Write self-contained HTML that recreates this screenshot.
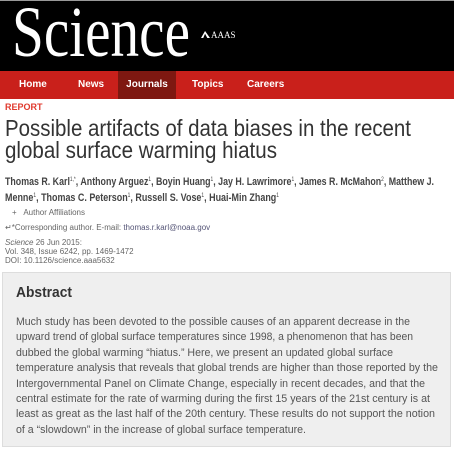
<!DOCTYPE html>
<html><head><meta charset="utf-8">
<style>
html,body{margin:0;padding:0;width:454px;height:451px;overflow:hidden;background:#fff;font-family:"Liberation Sans",sans-serif;}
.abs{position:absolute;white-space:nowrap;}
.fit{transform-origin:0 0;display:inline-block;}
#header{position:absolute;left:0;top:0;width:454px;height:71px;background:#000;border-top:1px solid #999;box-sizing:border-box;overflow:hidden;}
#nav{position:absolute;left:0;top:71px;width:454px;height:28px;background:#c9201b;}
.navi{position:absolute;top:0;height:28px;line-height:28px;color:#fff;font-weight:bold;font-size:10px;}
.sm{font-size:8px;color:#666;}
sup{font-size:6px;font-weight:normal;line-height:0;vertical-align:4px;}
</style></head>
<body>
<div id="header">
  <div class="abs" style="left:12px;top:-5px;font-family:'Liberation Serif',serif;font-size:72px;line-height:72px;color:#fff;"><span class="fit" data-w="178">Science</span></div>
  <div class="abs" style="left:201px;top:29px;font-family:'Liberation Serif',serif;font-size:9px;color:#fff;"><span style="display:inline-block;width:9px;height:7px;background:#fff;clip-path:polygon(0 100%,45% 0,100% 100%,70% 100%,45% 40%,25% 100%);margin-right:1px;"></span>AAAS</div>
</div>
<div id="nav">
  <div class="navi" style="left:19px;">Home</div>
  <div class="navi" style="left:78px;">News</div>
  <div class="navi" style="left:118px;width:58px;background:#7e1811;text-align:center;">Journals</div>
  <div class="navi" style="left:192px;">Topics</div>
  <div class="navi" style="left:247px;">Careers</div>
</div>
<div class="abs" style="left:5px;top:102px;font-size:9px;font-weight:bold;color:#e03a2e;">REPORT</div>
<div class="abs" style="left:5px;top:117px;font-size:23px;color:#333;line-height:22px;">
  <div><span class="fit" data-w="406">Possible artifacts of data biases in the recent</span></div>
  <div><span class="fit" data-w="272">global surface warming hiatus</span></div>
</div>
<div class="abs" style="left:5px;top:174px;font-size:11px;font-weight:bold;color:#444;line-height:16px;">
  <div><span class="fit" data-w="429">Thomas R. Karl<sup>1,*</sup>, Anthony Arguez<sup>1</sup>, Boyin Huang<sup>1</sup>, Jay H. Lawrimore<sup>1</sup>, James R. McMahon<sup>2</sup>, Matthew J.</span></div>
  <div><span class="fit" data-w="274">Menne<sup>1</sup>, Thomas C. Peterson<sup>1</sup>, Russell S. Vose<sup>1</sup>, Huai-Min Zhang<sup>1</sup></span></div>
</div>
<div class="abs sm" style="left:12px;top:208px;">+&nbsp;&nbsp;&nbsp;Author Affiliations</div>
<div class="abs sm" style="left:5px;top:223px;">&#8629;*Corresponding author. E-mail: <span style="color:#557">thomas.r.karl@noaa.gov</span></div>
<div class="abs sm" style="left:5px;top:238px;line-height:9px;"><i>Science</i> 26 Jun 2015:<br>Vol. 348, Issue 6242, pp. 1469-1472<br>DOI: 10.1126/science.aaa5632</div>
<div class="abs" style="left:2px;top:272px;width:449px;height:175px;background:#efefef;border:1px solid #ddd;box-sizing:border-box;"></div>
<div class="abs" style="left:16px;top:284px;font-size:15px;font-weight:bold;color:#333;"><span class="fit" data-w="56">Abstract</span></div>
<div class="abs" style="left:16px;top:315px;font-size:11px;color:#555;line-height:15.4px;">
  <div><span class="fit" data-w="394">Much study has been devoted to the possible causes of an apparent decrease in the</span></div>
  <div><span class="fit" data-w="397">upward trend of global surface temperatures since 1998, a phenomenon that has been</span></div>
  <div><span class="fit" data-w="377">dubbed the global warming “hiatus.” Here, we present an updated global surface</span></div>
  <div><span class="fit" data-w="422">temperature analysis that reveals that global trends are higher than those reported by the</span></div>
  <div><span class="fit" data-w="409">Intergovernmental Panel on Climate Change, especially in recent decades, and that the</span></div>
  <div><span class="fit" data-w="414">central estimate for the rate of warming during the first 15 years of the 21st century is at</span></div>
  <div><span class="fit" data-w="419">least as great as the last half of the 20th century. These results do not support the notion</span></div>
  <div><span class="fit" data-w="290">of a “slowdown” in the increase of global surface temperature.</span></div>
</div>
<script>
document.querySelectorAll('.fit').forEach(function(el){
  var w=parseFloat(el.getAttribute('data-w'));
  var cw=el.getBoundingClientRect().width;
  if(cw>0) el.style.transform='scaleX('+(w/cw)+')';
});
</script>
</body></html>
